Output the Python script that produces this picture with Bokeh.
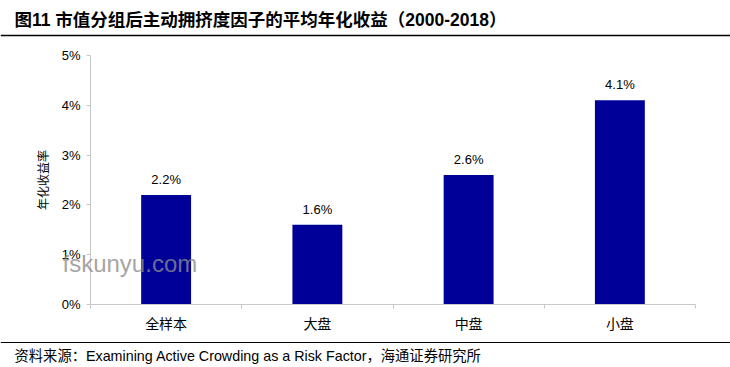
from bokeh.plotting import figure
from bokeh.models import (Range1d, FixedTicker, NumeralTickFormatter, Span, Label,
                          LinearAxis, ColumnDataSource)
from bokeh.core.properties import value
from bokeh.embed import file_html
from bokeh.resources import INLINE

# ---- data ----
categories = ["全样本", "大盘", "中盘", "小盘"]
returns = [0.022, 0.016, 0.026, 0.041]
y_ticks = [0.0, 0.01, 0.02, 0.03, 0.04, 0.05]
title_text = "图11 市值分组后主动拥挤度因子的平均年化收益（2000-2018）"
y_label = "年化收益率"
source_text = "资料来源：Examining Active Crowding as a Risk Factor，海通证券研究所"
watermark = "fskunyu.com"

FONT_STR = "Liberation Sans, Noto Sans CJK SC"
FONT = value(FONT_STR)

# ---- canvas / plot-area layout (pixels) ----
W, H = 730, 367
PL, PR, PT, PB = 90, 695, 55, 304     # plot area edges on the canvas
n = len(categories)
y_max = y_ticks[-1]
sx = (PR - PL) / n                     # pixels per category
sy = (PB - PT) / y_max                 # pixels per unit of return

x_range = Range1d(-PL / sx, n + (W - PR) / sx)
y_range = Range1d(-(H - PB) / sy, y_max + PT / sy)

p = figure(width=W, height=H, output_backend="svg", toolbar_location=None,
           x_range=x_range, y_range=y_range,
           x_axis_location=None, y_axis_location=None,
           min_border=0, min_border_left=0, min_border_right=0,
           min_border_top=0, min_border_bottom=0)
p.outline_line_color = None
p.grid.visible = False
p.background_fill_color = "white"
p.border_fill_color = "white"

xs = [i + 0.5 for i in range(n)]
labels = [f"{v * 100:.1f}%" for v in returns]
src = ColumnDataSource(dict(x=xs, top=returns, label=labels))

p.vbar(x="x", top="top", width=0.33, bottom=0, source=src,
       fill_color="#000099", line_color=None)
p.text(x="x", y="top", text="label", source=src, text_font=FONT,
       text_font_size="13px", text_align="center", text_baseline="bottom",
       y_offset=-8, text_color="black")

# y axis
yax = LinearAxis(fixed_location=0, bounds=(0, y_max))
yax.ticker = FixedTicker(ticks=y_ticks)
yax.formatter = NumeralTickFormatter(format="0%")
yax.axis_line_color = "#C8C8C8"
yax.major_tick_line_color = "#C8C8C8"
yax.major_tick_out = 4
yax.major_tick_in = 0
yax.minor_tick_line_color = None
yax.major_label_standoff = 6
yax.major_label_text_font = FONT_STR
yax.major_label_text_font_size = "13px"
yax.major_label_text_color = "black"
yax.axis_label = y_label
yax.axis_label_text_font = FONT_STR
yax.axis_label_text_font_size = "12px"
yax.axis_label_text_font_style = "normal"
yax.axis_label_standoff = 8
yax.axis_label_text_color = "black"
p.add_layout(yax, "left")

# x axis
xax = LinearAxis(fixed_location=0, bounds=(0, n))
xax.ticker = FixedTicker(ticks=xs, minor_ticks=list(range(n + 1)))
xax.major_label_overrides = {x: c for x, c in zip(xs, categories)}
xax.axis_line_color = "#C8C8C8"
xax.major_tick_line_color = None
xax.major_tick_out = 0
xax.major_tick_in = 0
xax.minor_tick_line_color = "#C8C8C8"
xax.minor_tick_out = 4
xax.minor_tick_in = 0
xax.major_label_standoff = 7
xax.major_label_text_font = FONT_STR
xax.major_label_text_font_size = "14px"
xax.major_label_text_color = "black"
p.add_layout(xax, "below")

# title, rules, source note and watermark (screen units: y measured from the bottom)
p.add_layout(Label(x=14, y=H - 19, x_units="screen", y_units="screen", text=title_text,
                   text_font=FONT_STR, text_font_size="17.5px", text_font_style="bold",
                   text_baseline="middle", text_color="black"))
p.add_layout(Span(location=H - 35, location_units="screen", dimension="width",
                  line_color="black", line_width=1.5))
p.add_layout(Span(location=H - 342, location_units="screen", dimension="width",
                  line_color="black", line_width=1.2))
p.add_layout(Label(x=14, y=H - 355, x_units="screen", y_units="screen", text=source_text,
                   text_font=FONT_STR, text_font_size="14.3px",
                   text_baseline="middle", text_color="black"))
p.add_layout(Label(x=62, y=H - 263, x_units="screen", y_units="screen", text=watermark,
                   text_font=FONT_STR, text_font_size="24px", text_color="#8C8C8C",
                   text_alpha=0.8, text_baseline="middle"))

open("out.html", "w").write(file_html(p, INLINE))
